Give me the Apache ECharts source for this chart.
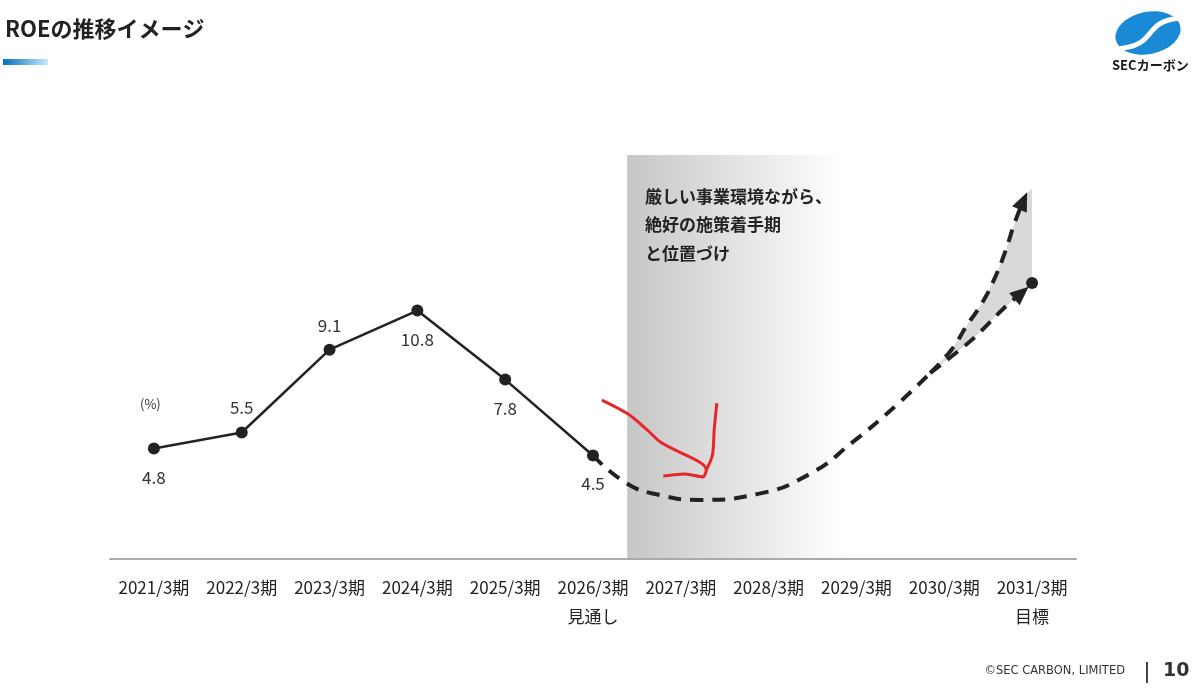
<!DOCTYPE html>
<html><head><meta charset="utf-8">
<script src="https://cdn.jsdelivr.net/npm/echarts@6/dist/echarts.min.js"></script>
<style>html,body{margin:0;padding:0;background:#fff}#c{width:1200px;height:688px}</style>
</head><body><div id="c"></div>
<script>
const categories = ['2021/3期','2022/3期','2023/3期','2024/3期','2025/3期','2026/3期','2027/3期','2028/3期','2029/3期','2030/3期','2031/3期'];
const subLabels = ['','','','','','見通し','','','','','目標'];
const roeActual = [4.8, 5.5, 9.1, 10.8, 7.8, 4.5];
const roeTarget = [null,null,null,null,null,null,null,null,null,null,12.0];
// projected image curve (x in category index units, y in %)
const curveCommon = [[5,4.5],[5.38,3.3],[5.76,2.78],[6.22,2.57],[6.88,2.83],[7.47,3.70],[7.96,5.09],[8.47,6.74],[8.84,8.09]];
const curveUpper = [[8.84,8.09],[9.08,9.09],[9.26,10.17],[9.43,11.13],[9.58,12.26],[9.70,13.43],[9.80,14.6],[9.90,15.57]];
const curveLower = [[8.84,8.09],[9.23,9.26],[9.42,9.91],[9.67,10.87],[9.88,11.57]];
const fillArea = [[8.84,8.09],[9.08,9.09],[9.26,10.17],[9.43,11.13],[9.58,12.26],[9.70,13.43],[9.80,14.6],[9.94,15.9],[10.0,16.1],[10.0,11.9],[9.67,10.87],[9.42,9.91],[9.23,9.26]];
const band = [[5.39, 0],[7.87, 17.57]];
const redStroke1 = [[5.10,6.91],[5.40,6.30],[5.62,5.60],[5.78,5.05],[6.29,3.87],[6.25,3.57],[6.05,3.70],[5.80,3.61]];
const redStroke2 = [[6.41,6.78],[6.38,5.61],[6.36,4.52],[6.29,3.87]];
const bandText = ['厳しい事業環境ながら、','絶好の施策着手期','と位置づけ'];
const labelPos = ['bottom','top','top','bottom','bottom','bottom'];

const FONT = '"Noto Sans CJK JP", "Noto Sans", sans-serif';
const chart = echarts.init(document.getElementById('c'));

function withArrow(arr, rot){
  return arr.map((p,i)=> i===arr.length-1 ? {value:p, symbol:'triangle', symbolSize:[16,19], symbolRotate:rot, itemStyle:{color:'#222'}} : {value:p, symbol:'none'});
}
const dashStyle = {color:'#222', width:4, type:[13,9]};

const option = {
  animation:false,
  textStyle:{fontFamily:FONT},
  grid:{left:110, right:124, top:99, bottom:129},
  xAxis:[{
    type:'category', data:categories,
    axisLine:{lineStyle:{color:'#aaaaaa', width:2}},
    axisTick:{show:false},
    axisLabel:{interval:0, color:'#222', fontSize:17, lineHeight:29, margin:14, fontFamily:FONT,
      formatter:(v,i)=> subLabels[i] ? v+'\n'+subLabels[i] : v}
  },{
    type:'value', min:-0.5, max:10.5, show:false
  }],
  yAxis:{type:'value', min:0, max:20, show:false},
  series:[
    {type:'custom', xAxisIndex:1, z:0, silent:true, data:[0],
     renderItem:(params, api)=>{
       const p0 = api.coord(band[0]); const p1 = api.coord(band[1]);
       return {type:'rect', shape:{x:p0[0], y:p1[1], width:p1[0]-p0[0], height:p0[1]-p1[1]},
         style:{fill:new echarts.graphic.LinearGradient(0,0,1,0,[{offset:0,color:'#c6c6c6'},{offset:0.55,color:'#e6e6e6'},{offset:1,color:'#ffffff'}])}};
     }},
    {type:'custom', xAxisIndex:1, z:1, silent:true, data:[0],
     renderItem:(params, api)=>({type:'polygon', shape:{points:fillArea.map(p=>api.coord(p))}, style:{fill:'#d9d9d9'}})},
    {type:'line', xAxisIndex:1, z:3, data:curveCommon, smooth:0.5, symbol:'none', lineStyle:dashStyle},
    {type:'line', xAxisIndex:1, z:3, data:withArrow(curveUpper,-24), smooth:0.5, lineStyle:dashStyle},
    {type:'line', xAxisIndex:1, z:3, data:withArrow(curveLower,-49), smooth:0.5, lineStyle:dashStyle},
    {type:'line', xAxisIndex:1, z:4, data:redStroke1, smooth:0.3, symbol:'none', lineStyle:{color:'#e8262a', width:3}},
    {type:'line', xAxisIndex:1, z:4, data:redStroke2, smooth:0.3, symbol:'none', lineStyle:{color:'#e8262a', width:3}},
    {type:'line', z:5, data:roeActual.map((v,i)=>({value:v, label:{position:labelPos[i], distance: labelPos[i]==='top'?10:14}})),
     symbol:'circle', symbolSize:12, itemStyle:{color:'#222'}, lineStyle:{color:'#222', width:2.5},
     label:{show:true, color:'#333', fontSize:17, fontFamily:FONT}},
    {type:'scatter', z:5, data:roeTarget, symbol:'circle', symbolSize:12, itemStyle:{color:'#222', opacity:1}}
  ],
  graphic:[
    {type:'text', left:5, top:18, style:{text:'ROEの推移イメージ', font:'bold 22px '+FONT, fill:'#222'}},
    {type:'rect', left:3, top:59, shape:{width:45, height:6},
     style:{fill:new echarts.graphic.LinearGradient(0,0,1,0,[{offset:0,color:'#0070c0'},{offset:1,color:'#c8ecfc'}])}},
    {type:'text', left:140, top:398, style:{text:'(%)', font:'13px '+FONT, fill:'#333'}},
    {type:'text', left:645, top:182, z:100, style:{text:bandText.join('\n'), font:'bold 17px '+FONT, fill:'#222', lineHeight:28.5}},
    // logo
    {type:'circle', shape:{cx:0, cy:0, r:33}, x:1148, y:33, scaleX:1, scaleY:0.64, rotation:0.2, style:{fill:'#1b8ad6'}},
    {type:'bezierCurve', shape:{x1:1180, y1:18, x2:1116, y2:49, cpx1:1140, cpy1:22, cpx2:1160, cpy2:46}, style:{stroke:'#fff', lineWidth:5, fill:null}},
    {type:'text', left:1112, top:59, style:{text:'SECカーボン', font:'bold 13px '+FONT, fill:'#1a1a1a'}},
    // footer
    {type:'text', right:75, top:665, style:{text:'©SEC CARBON, LIMITED', font:'11.5px "DejaVu Sans", sans-serif', fill:'#333'}},
    {type:'rect', left:1146, top:662, shape:{width:2, height:21}, style:{fill:'#444'}},
    {type:'text', left:1163, top:662, style:{text:'10', font:'bold 19px "DejaVu Sans", sans-serif', fill:'#333'}}
  ]
};
chart.setOption(option);
</script></body></html>
